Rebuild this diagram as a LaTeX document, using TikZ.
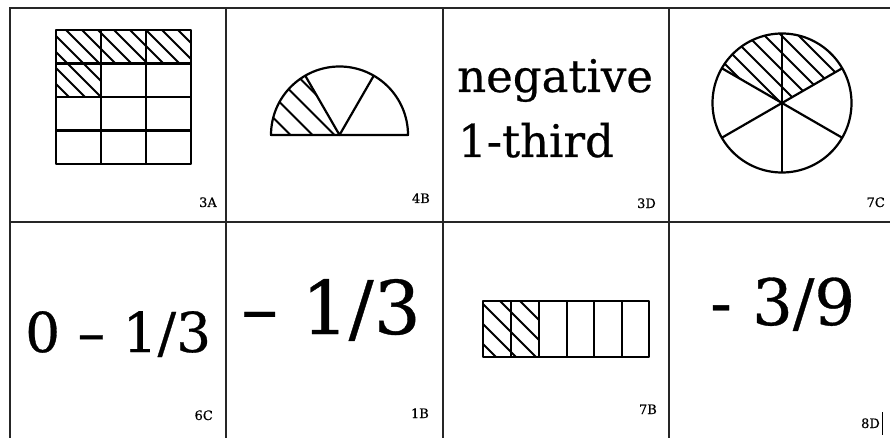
\documentclass[tikz,border=0pt]{standalone}
\usepackage{fontspec}
\setmainfont{DejaVu Serif}
\newfontfamily\heavyserif[FakeBold=0.5]{DejaVu Serif}
\begin{document}
\begin{tikzpicture}[x=1pt,y=-1pt,
  gridline/.style={line width=2.2pt, draw=black!85},
  fig/.style={line width=2.2pt, line join=round},
  hatchline/.style={line width=1.8pt},
  lbl/.style={font=\heavyserif\fontsize{13}{13}\selectfont, inner sep=0pt, anchor=base east},
  big/.style={inner sep=0pt, anchor=base west}]
\useasboundingbox (0,0) rectangle (890,438);
% table grid
\draw[gridline] (10,438) -- (10,8) -- (890,8);
\draw[gridline] (10,222) -- (890,222);
\foreach \x in {226,443,669} \draw[gridline] (\x,8) -- (\x,438);

% ---- 3A : 3x4 grid, 4 cells shaded
\begin{scope}
  \clip (56,30) rectangle (191,63.5) (56,63.5) rectangle (101,97);
  \foreach \k in {-150,-134,...,150} \draw[hatchline] (56+\k,30) -- ++(80,80);
\end{scope}
\draw[fig] (56,30) rectangle (191,164);
\foreach \x in {101,146} \draw[fig] (\x,30) -- (\x,164);
\foreach \y in {63.5,97,130.5} \draw[fig] (56,\y) -- (191,\y);
\node[lbl] (l3A) at (217,207) {3A};

% ---- 4B : semicircle in thirds
\begin{scope}[shift={(339.5,135)},yscale=-1]
  \begin{scope}
    \clip (0,0) -- (120:68.5) arc[start angle=120,end angle=180,radius=68.5] -- cycle;
    \foreach \k in {-115,-93,...,60} \draw[hatchline] (\k-100,100) -- (\k+100,-100);
  \end{scope}
  \draw[fig] (-68.5,0) arc[start angle=180,end angle=0,radius=68.5] -- cycle;
  \draw[fig] (120:68.5) -- (0,0) -- (60:68.5);
\end{scope}
\node[lbl] (l4B) at (430,203) {4B};

% ---- 3D : words
\node[big, font=\heavyserif\fontsize{45}{45}\selectfont] (neg) at (457,92) {negative};
\node[big, font=\heavyserif\fontsize{45}{45}\selectfont] (third) at (458,157) {1-third};
\node[lbl] (l3D) at (656,208) {3D};

% ---- 7C : circle in sixths
\begin{scope}[shift={(782,103)},yscale=-1]
  \begin{scope}
    \clip (0,0) -- (30:69.5) arc[start angle=30,end angle=150,radius=69.5] -- cycle;
    \foreach \k in {-120,-103,...,140} \draw[hatchline] (\k-100,100) -- (\k+100,-100);
  \end{scope}
  \draw[fig] (0,0) circle[radius=69.5];
  \draw[fig] (90:69.5) -- (270:69.5);
  \draw[fig] (30:69.5) -- (210:69.5);
  \draw[fig] (150:69.5) -- (330:69.5);
\end{scope}
\node[lbl] (l7C) at (885,207) {7C};

% ---- 6C
\node[big, font=\heavyserif\fontsize{55}{55}\selectfont] (t6C) at (25,352) {0 \textendash{} 1/3};
\node[lbl] (l6C) at (213,420) {6C};

% ---- 1B
\node[big, font=\heavyserif\fontsize{74}{74}\selectfont] (t1B) at (241,334) {\textendash{} 1/3};
\node[lbl] (l1B) at (429,418) {1B};

% ---- 7B : bar in sixths
\begin{scope}
  \clip (483,301) rectangle (539,357);
  \foreach \k in {400,420,...,540} \draw[hatchline] (\k,301) -- ++(70,70);
\end{scope}
\draw[fig] (483,301) rectangle (649,357);
\foreach \x in {511,539,567,594,622} \draw[fig] (\x,301) -- (\x,357);
\node[lbl] (l7B) at (657,414) {7B};

% ---- 8D
\node[big, font=\heavyserif\fontsize{64}{64}\selectfont] (t8D) at (710,325) {- 3/9};
\node[lbl] (l8D) at (880,428) {8D};
\draw[line width=1pt] (882,412) -- (882,435);
\end{tikzpicture}
\end{document}
